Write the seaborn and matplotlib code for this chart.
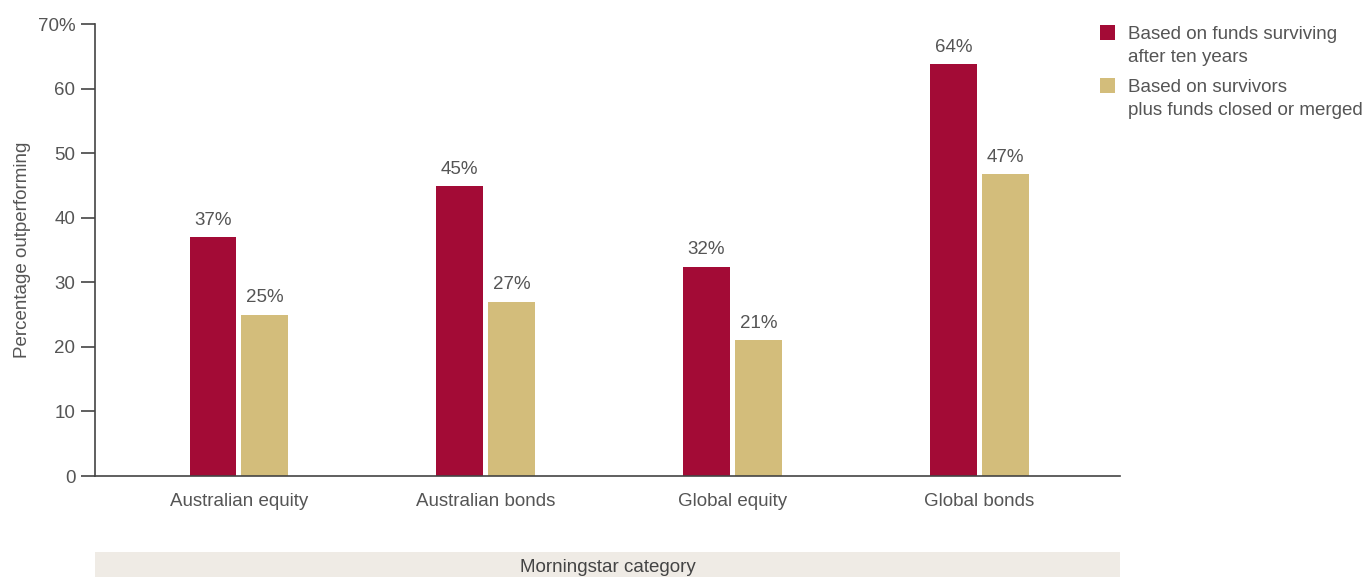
import matplotlib
matplotlib.use("Agg")
import matplotlib.pyplot as plt
from matplotlib.patches import Rectangle
import seaborn as sns
import pandas as pd

categories = ['Australian equity', 'Australian bonds', 'Global equity', 'Global bonds']
survivors = [37.0, 44.9, 32.4, 63.8]
with_closed = [25.0, 27.0, 21.0, 46.7]
series_names = ['Based on funds surviving\nafter ten years',
                'Based on survivors\nplus funds closed or merged']
y_ticks = [0, 10, 20, 30, 40, 50, 60, 70]
y_tick_labels = ['0', '10', '20', '30', '40', '50', '60', '70%']

colors = ['#A30B36', '#D3BD7B']
grey = '#555555'
fs = 13.5

df = pd.DataFrame({
    'category': categories * 2,
    'series': [series_names[0]] * 4 + [series_names[1]] * 4,
    'value': survivors + with_closed,
})

sns.set_style('white')
plt.rcParams['font.family'] = ['Liberation Sans', 'DejaVu Sans']

fig = plt.figure(figsize=(13.68, 5.77), dpi=100)
ax = fig.add_axes([0.0694, 0.175, 0.7493, 0.7834])

sns.barplot(data=df, x='category', y='value', hue='series', palette=colors,
            width=0.42, gap=0.1, saturation=1, linewidth=0, ax=ax, legend=False)

for cont in ax.containers:
    ax.bar_label(cont, labels=[f'{v:.0f}%' for v in cont.datavalues],
                 padding=6, fontsize=fs, color=grey)

ax.set_xlim(-0.583, 3.57)
ax.set_ylim(0, 70)
ax.set_yticks(y_ticks)
ax.set_yticklabels(y_tick_labels)
ax.set_xlabel('')
ax.set_ylabel('Percentage outperforming', fontsize=fs, color=grey, labelpad=5)
ax.tick_params(axis='y', left=True, length=10, width=1.2, color='#444444',
               labelsize=fs, labelcolor=grey, pad=4)
ax.tick_params(axis='x', bottom=False, labelsize=fs, labelcolor=grey, pad=9)
sns.despine(ax=ax)
for s in ['left', 'bottom']:
    ax.spines[s].set_color('#444444')
    ax.spines[s].set_linewidth(1.2)

# legend drawn by hand so the swatch sits beside the first line
W, H = 1368, 577
for i, (name, c) in enumerate(zip(series_names, colors)):
    top = 25 + i * 53
    fig.patches.append(Rectangle((1100 / W, 1 - (top + 15) / H), 15 / W, 15 / H,
                                 facecolor=c, edgecolor='none',
                                 transform=fig.transFigure))
    fig.text(1128 / W, 1 - (top + 1) / H, name, ha='left', va='top',
             fontsize=fs, color=grey, linespacing=1.45)

band = fig.add_axes([0.0694, 0.0, 0.7493, 0.0433])
band.set_facecolor('#EFEBE5')
band.set_xticks([])
band.set_yticks([])
for s in band.spines.values():
    s.set_visible(False)
band.text(0.5, 0.4, 'Morningstar category', ha='center', va='center',
          fontsize=fs, color='#444444', transform=band.transAxes)

fig.savefig('out.png', dpi=100)
